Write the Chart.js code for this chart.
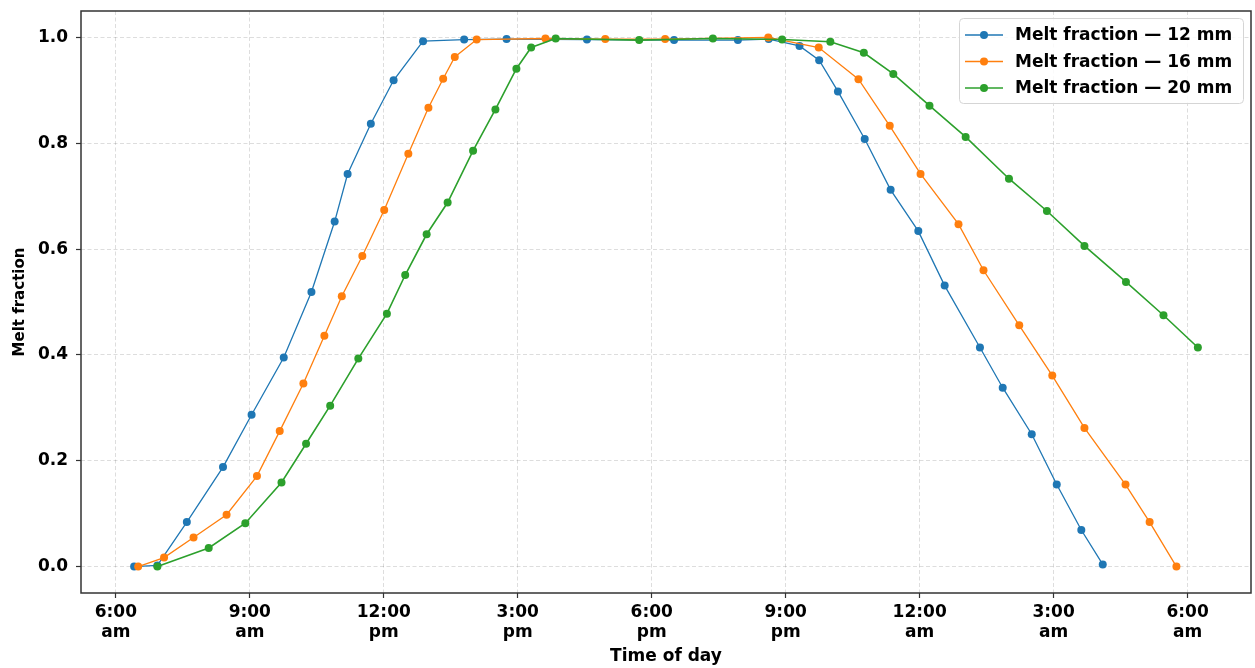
<!DOCTYPE html>
<html>
<head>
<meta charset="utf-8">
<title>Melt fraction</title>
<script src="https://cdn.jsdelivr.net/npm/chart.js@4.4.1/dist/chart.umd.min.js"></script>
<style>
  html, body { margin: 0; padding: 0; background: #fff; }
  canvas { display: block; }
</style>
</head>
<body>
<canvas id="chart" width="1255" height="668"></canvas>
<script>
// hours since midnight (values past 24 are the next morning)
var hours12 = [6.41, 6.93, 7.59, 8.40, 9.04, 9.76, 10.38, 10.90, 11.19, 11.71, 12.22, 12.88, 13.80, 14.75, 16.55, 18.50, 19.93, 20.62, 21.31, 21.75, 22.17, 22.77, 23.35, 23.97, 24.56, 25.35, 25.86, 26.51, 27.07, 27.62, 28.10];
var melt12 = [0.0, 0.002, 0.084, 0.188, 0.287, 0.395, 0.519, 0.652, 0.742, 0.837, 0.919, 0.993, 0.996, 0.997, 0.996, 0.995, 0.995, 0.997, 0.984, 0.957, 0.898, 0.808, 0.712, 0.634, 0.531, 0.414, 0.338, 0.250, 0.155, 0.069, 0.004];

var hours16 = [6.50, 7.08, 7.74, 8.48, 9.16, 9.67, 10.20, 10.67, 11.06, 11.52, 12.01, 12.55, 13.00, 13.33, 13.59, 14.08, 15.62, 16.96, 18.30, 20.61, 21.74, 22.63, 23.33, 24.02, 24.87, 25.43, 26.23, 26.97, 27.69, 28.61, 29.15, 29.75];
var melt16 = [0.0, 0.017, 0.055, 0.098, 0.171, 0.256, 0.346, 0.436, 0.511, 0.587, 0.674, 0.780, 0.867, 0.922, 0.963, 0.996, 0.998, 0.997, 0.997, 1.0, 0.981, 0.921, 0.833, 0.742, 0.647, 0.560, 0.456, 0.361, 0.262, 0.155, 0.084, 0.0];

var hours20 = [6.93, 8.08, 8.90, 9.71, 10.26, 10.80, 11.43, 12.07, 12.48, 12.96, 13.43, 14.00, 14.50, 14.97, 15.30, 15.85, 17.72, 19.37, 20.92, 22.00, 22.75, 23.41, 24.22, 25.03, 26.00, 26.85, 27.69, 28.62, 29.46, 30.23];
var melt20 = [0.0, 0.035, 0.082, 0.159, 0.232, 0.304, 0.393, 0.478, 0.551, 0.628, 0.688, 0.786, 0.864, 0.941, 0.981, 0.998, 0.995, 0.998, 0.996, 0.992, 0.971, 0.931, 0.871, 0.812, 0.733, 0.672, 0.606, 0.538, 0.475, 0.414];

var seriesLabels = ["Melt fraction \u2014 12 mm", "Melt fraction \u2014 16 mm", "Melt fraction \u2014 20 mm"];
var xTickValues = [6, 9, 12, 15, 18, 21, 24, 27, 30];
var xTickLabels = [["6:00", "am"], ["9:00", "am"], ["12:00", "pm"], ["3:00", "pm"], ["6:00", "pm"], ["9:00", "pm"], ["12:00", "am"], ["3:00", "am"], ["6:00", "am"]];
var yTickValues = [0, 0.2, 0.4, 0.6, 0.8, 1.0];

var FONT = "'DejaVu Sans', 'Liberation Sans', sans-serif";
var colors = ["#1f77b4", "#ff7f0e", "#2ca02c"];

function toPoints(xs, ys) {
  return xs.map(function (x, i) { return { x: x, y: ys[i] }; });
}

function makeSet(idx, xs, ys, width) {
  return {
    label: seriesLabels[idx],
    data: toPoints(xs, ys),
    borderColor: colors[idx],
    backgroundColor: colors[idx],
    borderWidth: width,
    pointRadius: 4,
    pointBorderWidth: 0,
    pointBackgroundColor: colors[idx],
    tension: 0,
    order: 3 - idx   // green drawn on top, like matplotlib
  };
}

// frame around plot area (all four spines)
var framePlugin = {
  id: "frame",
  afterDatasetsDraw: function (chart) {
    var a = chart.chartArea, ctx = chart.ctx;
    ctx.save();
    ctx.strokeStyle = "#333";
    ctx.lineWidth = 1.5;
    ctx.strokeRect(a.left, a.top, a.right - a.left, a.bottom - a.top);
    ctx.restore();
  }
};

// legend box inside the top right corner
var legendPlugin = {
  id: "boxLegend",
  afterDraw: function (chart) {
    var ctx = chart.ctx;
    var x0 = 959, y0 = 18, w = 284, h = 85;
    ctx.save();
    ctx.fillStyle = "rgba(255,255,255,0.85)";
    ctx.strokeStyle = "#d5d5d5";
    ctx.lineWidth = 1;
    ctx.beginPath();
    ctx.roundRect(x0 + 0.5, y0 + 0.5, w, h, 4);
    ctx.fill();
    ctx.stroke();
    ctx.font = "bold 17px " + FONT;
    ctx.textBaseline = "middle";
    chart.data.datasets.forEach(function (ds, i) {
      var cy = y0 + 17 + i * 26.5;
      ctx.strokeStyle = ds.borderColor;
      ctx.lineWidth = ds.borderWidth;
      ctx.beginPath();
      ctx.moveTo(965, cy);
      ctx.lineTo(1003, cy);
      ctx.stroke();
      ctx.fillStyle = ds.borderColor;
      ctx.beginPath();
      ctx.arc(984, cy, 4, 0, Math.PI * 2);
      ctx.fill();
      ctx.fillStyle = "#000";
      ctx.fillText(ds.label, 1015, cy + 1);
    });
    ctx.restore();
  }
};

var gridOpts = {
  color: "rgba(0,0,0,0.17)",
  lineWidth: 0.8,
  tickColor: "#333",
  tickLength: 5,
  tickWidth: 1.2
};

var config = {
  type: "line",
  data: {
    datasets: [
      makeSet(0, hours12, melt12, 1.3),
      makeSet(1, hours16, melt16, 1.3),
      makeSet(2, hours20, melt20, 1.6)
    ]
  },
  options: {
    responsive: false,
    animation: false,
    devicePixelRatio: 1,
    layout: { padding: { top: 11, right: 0, left: 0, bottom: 0 } },
    plugins: {
      legend: { display: false },
      tooltip: { enabled: false }
    },
    scales: {
      x: {
        type: "linear",
        min: 5.22,
        max: 31.42,
        afterBuildTicks: function (scale) {
          scale.ticks = xTickValues.map(function (v) { return { value: v }; });
        },
        afterFit: function (scale) {
          scale.height = 75;
          scale.paddingLeft = 0;
          scale.paddingRight = 0;
        },
        grid: gridOpts,
        border: { display: false, dash: [4, 2.5] },
        ticks: {
          autoSkip: false,
          maxRotation: 0,
          padding: 5,
          color: "#000",
          font: { family: FONT, size: 17, weight: "bold", lineHeight: "20px" },
          callback: function (v) {
            var i = xTickValues.indexOf(v);
            return i >= 0 ? xTickLabels[i] : "";
          }
        },
        title: {
          display: true,
          text: "Time of day",
          color: "#000",
          font: { family: FONT, size: 17, weight: "bold" },
          padding: { top: 0, bottom: 1 }
        }
      },
      y: {
        type: "linear",
        min: -0.05,
        max: 1.05,
        afterBuildTicks: function (scale) {
          scale.ticks = yTickValues.map(function (v) { return { value: v }; });
        },
        afterFit: function (scale) {
          scale.width = 81;
          scale.paddingTop = 0;
          scale.paddingBottom = 0;
        },
        grid: gridOpts,
        border: { display: false, dash: [4, 2.5] },
        ticks: {
          padding: 8,
          color: "#000",
          font: { family: FONT, size: 17, weight: "bold" },
          callback: function (v) { return v.toFixed(1); }
        },
        title: {
          display: true,
          text: "Melt fraction",
          color: "#000",
          font: { family: FONT, size: 15, weight: "bold" },
          padding: { top: 11, bottom: 0 }
        }
      }
    }
  },
  plugins: [framePlugin, legendPlugin]
};

new Chart(document.getElementById("chart").getContext("2d"), config);
</script>
</body>
</html>
